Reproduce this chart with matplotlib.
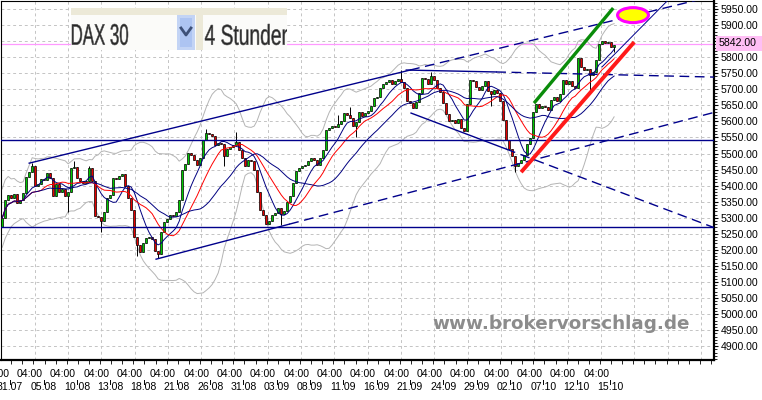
import numpy as np
import pandas as pd
import matplotlib
matplotlib.use("Agg")
import matplotlib.pyplot as plt
from matplotlib.patches import Rectangle, Ellipse, PathPatch
from matplotlib.lines import Line2D
from matplotlib.textpath import TextPath
from matplotlib.font_manager import FontProperties
from matplotlib.transforms import Affine2D, Bbox, IdentityTransform, blended_transform_factory
from matplotlib.ticker import MultipleLocator

# --- data (DAX 30, 4h bars) ---
first_open = 5271
closes = [
    5299, 5355, 5371, 5361, 5374, 5346, 5355, 5377, 5427, 5442,
    5461, 5399, 5405, 5420, 5418, 5439, 5423, 5367, 5405, 5380,
    5389, 5367, 5380, 5455, 5458, 5423, 5414, 5408, 5414, 5455,
    5414, 5305, 5302, 5290, 5318, 5361, 5371, 5423, 5420, 5430,
    5436, 5399, 5361, 5324, 5240, 5215, 5193, 5221, 5237, 5240,
    5235, 5196, 5187, 5255, 5287, 5296, 5308, 5305, 5318, 5355,
    5448, 5467, 5501, 5495, 5480, 5464, 5486, 5542, 5564, 5561,
    5554, 5526, 5533, 5529, 5492, 5514, 5520, 5526, 5536, 5511,
    5486, 5461, 5480, 5478, 5448, 5380, 5324, 5308, 5280, 5290,
    5308, 5315, 5330, 5311, 5321, 5349, 5367, 5408, 5445, 5455,
    5461, 5464, 5476, 5486, 5480, 5464, 5486, 5511, 5573, 5579,
    5586, 5582, 5592, 5601, 5626, 5620, 5610, 5586, 5598, 5629,
    5617, 5626, 5632, 5648, 5673, 5676, 5704, 5716, 5723, 5729,
    5716, 5726, 5732, 5723, 5704, 5663, 5657, 5642, 5660, 5688,
    5735, 5732, 5716, 5741, 5729, 5704, 5691, 5657, 5623, 5601,
    5604, 5595, 5607, 5579, 5570, 5654, 5729, 5727, 5707, 5698,
    5710, 5726, 5695, 5685, 5698, 5688, 5663, 5604, 5542, 5514,
    5492, 5461, 5470, 5480, 5495, 5529, 5548, 5629, 5654, 5642,
    5648, 5646, 5635, 5667, 5676, 5663, 5685, 5729, 5716, 5726,
    5710, 5704, 5797, 5769, 5760, 5763, 5744, 5754, 5791, 5841,
    5850, 5844, 5846, 5832, 5838,
]
# notable wicks (bar index -> price)
wick_high = {10: 5470, 24: 5476, 29: 5462, 68: 5575, 78: 5567, 112: 5620,
             116: 5645, 133: 5760, 143: 5754}
wick_low = {22: 5318, 33: 5255, 45: 5180, 52: 5174, 74: 5461, 93: 5277,
            118: 5551, 163: 5648, 171: 5442, 196: 5698, 204: 5815}

date_labels = ["31.07", "05.08", "10.08", "13.08", "18.08", "21.08", "26.08",
               "31.08", "03.09", "08.09", "11.09", "16.09", "21.09", "24.09",
               "29.09", "02.10", "07.10", "12.10", "15.10"]
last_price = 5842

# drawn lines: bar index / price anchors (first segment solid, second dashed)
upper_x, upper_y = [9, 136, 237], [5470, 5760, 5990]
lower_x, lower_y = [51.3, 95.7, 237.7], [5171, 5280, 5629]
top_x, top_y = [134.7, 164.7, 237.7], [5760, 5754, 5738]
desc_x, desc_y = [136.3, 168, 237.7], [5626, 5514, 5268]
flat_levels = [5542, 5270]
green_x, green_y = [177.3, 203.7], [5657, 5953]
red_x, red_y = [173, 210.7], [5442, 5847]
thin_x, thin_y = [200, 222], [5770, 5978]
mark_xy, mark_w, mark_h = (210.3, 5931), 10.3, 46.7

W, H = 762, 400
NAVY = "#00008b"
plt.rcParams["font.family"] = ["Liberation Sans", "DejaVu Sans"]

fig = plt.figure(figsize=(W / 100, H / 100), dpi=100)
ax = fig.add_axes([1 / W, 40 / H, 713 / W, 359 / H])
ax.set_xlim(-0.4, 237.3)
ax.set_ylim(4857, 5975)


def px2bar(px):
    return (np.asarray(px) - 1) / 3.0


# grid
for lv in range(4900, 5951, 50):
    ax.axhline(lv, color="#c4c4c4", lw=0.7, ls=(0, (3, 3)), zorder=0)
for gx in px2bar(33.33 * np.arange(1, 22)):
    ax.axvline(gx, color="#c4c4c4", lw=0.7, ls=(0, (3, 3)), zorder=0)
ax.axhline(last_price, color="#ff99ff", lw=0.9, zorder=1)

# candles + indicators
idx = np.arange(len(closes))
c = np.array(closes, dtype=float)
o = np.r_[first_open, c[:-1]]
hi = np.maximum(o, c)
lo = np.minimum(o, c)
for k, v in wick_high.items():
    hi[k] = max(hi[k], v)
for k, v in wick_low.items():
    lo[k] = min(lo[k], v)

s = pd.Series(c)
mid = s.rolling(22, min_periods=1).mean()
sd = s.rolling(22, min_periods=2).std().bfill()
ax.plot(idx, mid + 2.3 * sd, color="#b4b4b4", lw=0.7, zorder=2)
ax.plot(idx, mid - 2.3 * sd, color="#b4b4b4", lw=0.7, zorder=2)

ax.vlines(idx, lo, hi, color="black", lw=0.7, zorder=3)
up = c >= o
ax.bar(idx[up], (c - o)[up], bottom=o[up], width=0.82, color="#00c800",
       edgecolor="black", linewidth=0.5, zorder=3)
ax.bar(idx[~up], (c - o)[~up], bottom=o[~up], width=0.82, color="#e60000",
       edgecolor="black", linewidth=0.5, zorder=3)

ax.plot(idx, s.rolling(8, min_periods=1).mean(), color="#000080", lw=0.7, zorder=4)
ax.plot(idx, s.rolling(14, min_periods=1).mean(), color="#ff0000", lw=0.7, zorder=4)
ax.plot(idx, s.rolling(26, min_periods=1).mean(), color="#000080", lw=0.7, zorder=4)

# trend lines
for xs, ys in [(upper_x, upper_y), (lower_x, lower_y), (top_x, top_y), (desc_x, desc_y)]:
    ax.plot(xs[:2], ys[:2], color=NAVY, lw=1.0, zorder=6)
    ax.plot(xs[1:], ys[1:], color=NAVY, lw=1.0, ls=(0, (7, 4)), zorder=6)
for lv in flat_levels:
    ax.axhline(lv, color=NAVY, lw=1.0, zorder=6)
ax.plot(thin_x, thin_y, color=NAVY, lw=0.7, zorder=6)
ax.plot(green_x, green_y, color="#0a8c0a", lw=2.4, solid_capstyle="butt", zorder=7)
ax.plot(red_x, red_y, color="#ff1a1a", lw=2.8, solid_capstyle="butt", zorder=7)
ax.add_patch(Ellipse(mark_xy, mark_w, mark_h, facecolor="#ffff00",
                     edgecolor="#ff00ff", lw=2.2, zorder=8))

# axes frame
for side in ("left", "top"):
    ax.spines[side].set_linewidth(0.8)
for side in ("right", "bottom"):
    ax.spines[side].set_linewidth(1.6)

# y axis on the right
ax.yaxis.tick_right()
yt = np.arange(4900, 5951, 50)
ax.set_yticks(yt)
ax.set_yticklabels(["" if v == 5850 else f"{v:.2f}" for v in yt])
ax.yaxis.set_minor_locator(MultipleLocator(10))
ax.tick_params(axis="y", which="major", length=3, width=0.8, pad=2, labelsize=7.6)
ax.tick_params(axis="y", which="minor", length=2, width=0.6)

# x axis: small ticks, two-row labels
ax.set_xticks(px2bar(10 + 11.11 * np.arange(0, 64)))
ax.tick_params(axis="x", which="both", length=3, width=0.6, labelbottom=False)
tx = blended_transform_factory(ax.transData, ax.transAxes)
time_pos = px2bar(-4.8 + 33.33 * np.arange(len(date_labels)))
date_pos = px2bar(9.0 + 33.33 * np.arange(len(date_labels)))
for xt, xd, d in zip(time_pos, date_pos, date_labels):
    ax.text(xt, -0.039, "04:00", transform=tx, ha="center", va="center",
            fontsize=7.6, clip_on=False)
    ax.text(xd, -0.075, d, transform=tx, ha="center", va="center",
            fontsize=7.6, clip_on=False)
    ax.plot([xd, xd], [-0.057, -0.066], transform=tx, color="black", lw=0.7,
            clip_on=False)

# watermark
fig.text(561 / W, 1 - 324 / H, "www.brokervorschlag.de", ha="center", va="center",
         fontsize=13.2, fontweight="bold", family="DejaVu Sans", color="#8c8c8c",
         zorder=9)

# pixel-placed overlays
PX = IdentityTransform()


def box_px(x0, y0, x1, y1, color, z=10):
    fig.add_artist(Rectangle((x0, H - y1), x1 - x0, y1 - y0, transform=PX,
                             facecolor=color, edgecolor="none", zorder=z))


def ink_text(txt, x0, y0, w, h, color, clip=None):
    tp = TextPath((0, 0), txt, size=20, prop=FontProperties(family="Liberation Sans"))
    e = tp.get_extents()
    tr = (Affine2D().translate(-e.x0, -e.y0)
          .scale(w / e.width, h / e.height).translate(x0, H - y0 - h))
    p = PathPatch(tp, transform=tr, facecolor=color, edgecolor="#555555",
                  lw=0.4, zorder=11)
    if clip:
        p.set_clip_box(Bbox.from_extents(clip[0], H - clip[3], clip[2], H - clip[1]))
    fig.add_artist(p)


# last price marker on the price scale
box_px(716, 36, 762, 51, "#ffbff5")
fig.text(719 / W, 1 - 43.5 / H, f"{last_price:.2f}", ha="left", va="center",
         fontsize=7.6, zorder=12)

# symbol selector box
box_px(71, 8, 287, 50, "#fbfbf9")
box_px(71, 8, 287, 15, "#ece9d8")
box_px(196, 8, 203, 50, "#ece9d8")
box_px(177, 15, 195, 50, "#c3d4f5")
box_px(180, 18, 192, 47, "#adc4f2")
fig.add_artist(Line2D([181, 186, 191], [H - 28, H - 35, H - 28], transform=PX,
                      color="#3d5078", lw=2, zorder=11))
ink_text("DAX 30", 72, 24, 56, 21, "#262626")
ink_text("4 Stunden", 205, 24, 86, 21, "#262626", clip=(203, 8, 287, 50))

fig.savefig("out.png", dpi=100)
